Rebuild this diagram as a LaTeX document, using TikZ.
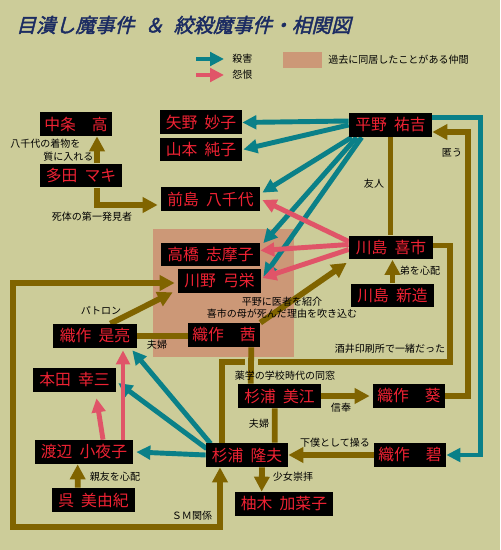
\documentclass[tikz,border=0pt]{standalone}
\usepackage{fontspec}
\newfontfamily\jpfont{Noto Sans CJK JP}
\newfontfamily\titlefont[FakeSlant=0.25,FakeBold=2]{Noto Sans CJK JP}
\usetikzlibrary{arrows.meta,calc,backgrounds}
\definecolor{khaki}{HTML}{CCCC99}
\definecolor{murder}{HTML}{0A8088}
\definecolor{grudge}{HTML}{E05468}
\definecolor{bond}{HTML}{806400}
\definecolor{lodge}{HTML}{CC9877}
\definecolor{namered}{HTML}{EE2233}
\definecolor{titleink}{HTML}{1C2C62}
\newcommand{\nsp}{\hspace{0.45em}}
\tikzset{
  namebox/.style={fill=black,text=namered,font=\jpfont\fontsize{9}{10}\selectfont,minimum height=4.8mm,inner xsep=0.8mm,inner ysep=0pt},
  killtip/.tip={Triangle[length=2.8mm,width=2.7mm]},
  bondtip/.tip={Triangle[length=3mm,width=3mm]},
  kill/.style={draw=murder,line width=2.8pt,-killtip},
  hate/.style={draw=grudge,line width=2.8pt,-killtip},
  rel/.style={draw=bond,line width=3.3pt},
  relarrow/.style={rel,-bondtip},
  lbl/.style={font=\jpfont\fontsize{5.7}{7}\selectfont,align=center,inner sep=0pt}}

\begin{document}
\begin{tikzpicture}[x=0.02cm,y=-0.02cm]
  \useasboundingbox (0,0) rectangle (500,550);
  % title and key
  \node[font=\titlefont\fontsize{11.2}{12}\selectfont,text=titleink,anchor=west,inner sep=0pt] (title) at (16,25) {目潰し魔事件\hspace{0.5em}＆\hspace{0.5em}絞殺魔事件・相関図};
  \node[lbl,anchor=west] (kill-key) at (232,59) {殺害};
  \node[lbl,anchor=west] (hate-key) at (232,75) {怨恨};
  \node[fill=lodge,minimum width=0.78cm,minimum height=0.32cm,inner sep=0pt] (lodge-key) at (302.5,60) {};
  \node[lbl,anchor=west] (lodge-lbl) at (328,60) {過去に同居したことがある仲間};

  % people
  \node[namebox,minimum width=1.44cm] (chujo) at (76,124) {中条　高};
  \node[namebox,minimum width=1.64cm] (yano) at (201,122.5) {矢野\nsp 妙子};
  \node[namebox,minimum width=1.64cm] (yamamoto) at (201,149.5) {山本\nsp 純子};
  \node[namebox,minimum width=1.64cm] (tada) at (81,175.5) {多田\nsp マキ};
  \node[namebox,minimum width=1.98cm] (maejima) at (210.5,199) {前島\nsp 八千代};
  \node[namebox,minimum width=1.66cm] (hirano) at (390.5,125) {平野\nsp 祐吉};
  \node[namebox,minimum width=1.98cm] (takahashi) at (210.5,254.5) {高橋\nsp 志摩子};
  \node[namebox,minimum width=1.66cm] (kawano) at (219.5,281) {川野\nsp 弓栄};
  \node[namebox,minimum width=1.68cm] (kiichi) at (391,247.5) {川島\nsp 喜市};
  \node[namebox,minimum width=1.66cm] (shinzo) at (392.5,295.5) {川島\nsp 新造};
  \node[namebox,minimum width=1.68cm] (koresuke) at (95,336) {織作\nsp 是亮};
  \node[namebox,minimum width=1.44cm] (akane) at (224,335) {織作　茜};
  \node[namebox,minimum width=1.66cm] (honda) at (74.5,380) {本田\nsp 幸三};
  \node[namebox,minimum width=1.96cm] (sayoko) at (84,452) {渡辺\nsp 小夜子};
  \node[namebox,minimum width=1.66cm] (miyuki) at (93.5,500) {呉\nsp 美由紀};
  \node[namebox,minimum width=1.64cm] (takao) at (247,455) {杉浦\nsp 隆夫};
  \node[namebox,minimum width=1.66cm] (mie) at (279.5,396) {杉浦\nsp 美江};
  \node[namebox,minimum width=1.44cm] (aoi) at (409,396) {織作　葵};
  \node[namebox,minimum width=1.44cm] (midori) at (410,455) {織作　碧};
  \node[namebox,minimum width=1.96cm] (kanako) at (284,504) {柚木\nsp 加菜子};

  % labels
  \node[lbl,align=left,anchor=north west] (kimono-lbl) at (10,139) {八千代の着物を\\\hspace*{3.3em}質に入れる};
  \node[lbl] (finder-lbl) at (92,217) {死体の第一発見者};
  \node[lbl] (patron-lbl) at (101,311) {パトロン};
  \node[lbl] (couple1-lbl) at (157,345) {夫婦};
  \node[lbl] (doctor-lbl) at (282,308) {平野に医者を紹介\\喜市の母が死んだ理由を吹き込む};
  \node[lbl] (friend-lbl) at (374,184) {友人};
  \node[lbl] (hide-lbl) at (452,153) {匿う};
  \node[lbl] (brother-lbl) at (420,271) {弟を心配};
  \node[lbl] (print-lbl) at (390,349) {酒井印刷所で一緒だった};
  \node[lbl] (school-lbl) at (285,376) {薬学の学校時代の同窓};
  \node[lbl] (couple2-lbl) at (259,424) {夫婦};
  \node[lbl] (faith-lbl) at (341,408) {信奉};
  \node[lbl] (servant-lbl) at (335,443) {下僕として操る};
  \node[lbl] (girl-lbl) at (293,477) {少女崇拝};
  \node[lbl] (pal-lbl) at (115,477) {親友を心配};
  \node[lbl] (sm-lbl) at (192,516) {ＳＭ関係};

  \begin{scope}[on background layer]
    \fill[khaki] (0,0) rectangle (500,550);
    \fill[lodge] (153,229) rectangle (294,357);
    % key arrows
    \draw[kill] ($(kill-key.west)+(-36,0)$) -- ($(kill-key.west)+(-8,0)$);
    \draw[hate] ($(hate-key.west)+(-36,0)$) -- ($(hate-key.west)+(-8,0)$);
    % murders
    \draw[kill] ($(hirano.west)+(0,-4)$) -- (yano.east);
    \draw[kill] (hirano.west) -- ($(yamamoto.east)+(1,0)$);
    \draw[kill] ($(hirano.south west)+(3,0)$) -- ($(maejima.north east)+(2,6)$);
    \draw[kill] ($(hirano.south west)+(8,0)$) -- ($(takahashi.north east)+(3,1)$);
    \draw[kill] ($(hirano.south west)+(13,0)$) -- ($(kawano.east)+(2,-4)$);
    \draw[kill] ($(hirano.north east)+(0,5)$) -- ++(48,0) |- (midori.east);
    \draw[kill] (takao.west) -- ($(sayoko.east)+(3,0)$);
    \draw[kill] ($(takao.north west)+(1,6)$) -- ($(honda.east)+(2,3)$);
    \draw[kill] ($(takao.north west)+(5,1)$) -- ($(koresuke.south east)+(-5,2)$);
    % grudges
    \draw[hate] ($(kiichi.west)+(0,-6)$) -- ($(maejima.east)+(2,1)$);
    \draw[hate] ($(kiichi.west)+(0,-3)$) -- ($(takahashi.east)+(0,-4)$);
    \draw[hate] ($(kiichi.west)+(0,2)$) -- ($(kawano.east)+(1,-3)$);
    \draw[hate] ($(sayoko.north)+(19,0)$) -- ($(honda.south)+(22,6)$);
    \draw[hate] ($(sayoko.north)+(39,0)$) -- ($(koresuke.south)+(28,2)$);
    % other ties
    \draw[relarrow] ($(tada.north)+(16,0)$) -- ($(chujo.south)+(21,0)$);
    \draw[relarrow] ($(tada.south)+(16,0)$) |- ($(maejima.west)+(-3,6)$);
    \draw[rel,bondtip-bondtip] ($(takao.south)+(-27,0)$) -- ++(0,60) -- ++(-207,0) |- ($(kawano.west)+(-3,2)$);
    \draw[relarrow] ($(koresuke.north east)+(-27,0)$) -- ($(kawano.south west)+(-5,-1)$);
    \draw[rel] (koresuke.east) -- (koresuke.east -| akane.west);
    \draw[relarrow] (akane.north east) -- ($(kiichi.south west)+(-2,3)$);
    \draw[rel] ($(takao.north west)+(16,0)$) -- ++(0,-81) -- ++(228,0) |- ($(kiichi.east)+(0,-2)$);
    \draw[draw=khaki,line width=7.4pt] ($(akane.south east)+(-9,10)$) -- ($(akane.south east)+(-9,20)$);
    \draw[rel] ($(akane.south east)+(-9,0)$) -- ($(mie.north west)+(13,0)$);
    \draw[rel] ($(mie.south west)+(37,0)$) -- ($(takao.north west)+(69,0)$);
    \draw[relarrow] (mie.east) -- ($(aoi.west)+(-3,0)$);
    \draw[relarrow] (aoi.east) -- ++(23,0) |- ($(hirano.east)+(0,7)$);
    \draw[rel] (hirano.south) -- (hirano.south |- kiichi.north);
    \draw[relarrow] (shinzo.north) -- (shinzo.north |- kiichi.south);
    \draw[relarrow] (midori.west) -- (takao.east);
    \draw[relarrow] ($(takao.south)+(15,0)$) -- ($(kanako.north west)+(27,0)$);
    \draw[relarrow] ($(miyuki.north west)+(26,0)$) -- ($(sayoko.south west)+(43,0)$);
  \end{scope}
\end{tikzpicture}
\end{document}
